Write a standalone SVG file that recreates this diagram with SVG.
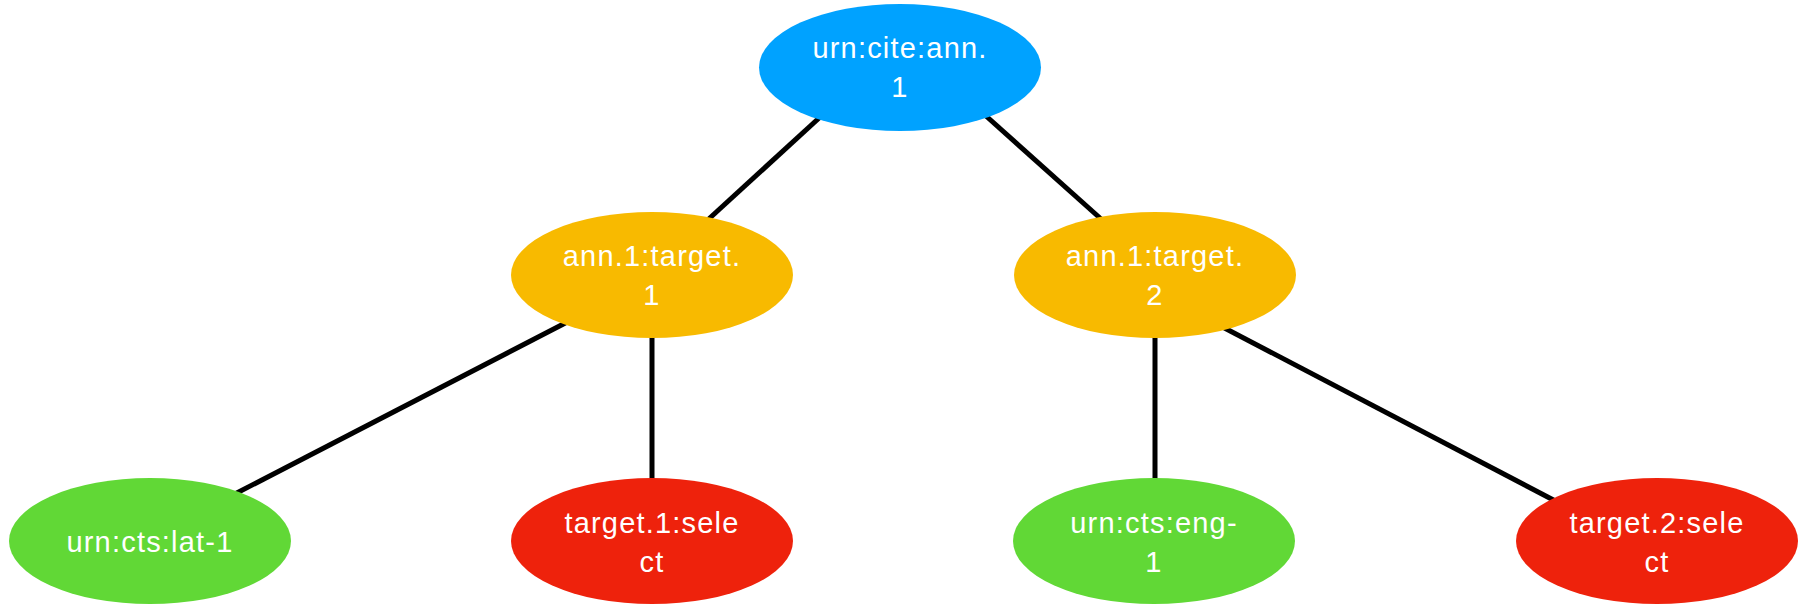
<svg xmlns="http://www.w3.org/2000/svg" width="1803" height="606" viewBox="0 0 1803 606">
<style>
.edge{stroke:#000;stroke-width:5;fill:none}
.lbl{font-family:"Liberation Sans",Arial,sans-serif;font-size:29px;fill:#fff;text-anchor:middle;letter-spacing:1.2px}
.blue{fill:#00A2FF}.yellow{fill:#F8BA00}.green{fill:#61D836}.red{fill:#EE220C}
</style>
<rect width="1803" height="606" fill="#fff"/>
<g id="connectors">
<line class="edge" x1="830" y1="108" x2="700" y2="227"/>
<line class="edge" x1="976" y1="107" x2="1110" y2="227"/>
<line class="edge" x1="575" y1="318" x2="229" y2="497"/>
<line class="edge" x1="652" y1="330" x2="652" y2="485"/>
<line class="edge" x1="1155" y1="330" x2="1155" y2="485"/>
<line class="edge" x1="1213" y1="322" x2="1563" y2="505"/>
</g>
<g id="root">
<ellipse class="blue" cx="900" cy="67.5" rx="141" ry="63.5"/>
<text class="lbl" x="900" y="58">urn:cite:ann.</text>
<text class="lbl" x="900" y="97">1</text>
</g>
<g id="target1">
<ellipse class="yellow" cx="652" cy="275" rx="141" ry="63"/>
<text class="lbl" x="652" y="266">ann.1:target.</text>
<text class="lbl" x="652" y="305">1</text>
</g>
<g id="target2">
<ellipse class="yellow" cx="1155" cy="275" rx="141" ry="63"/>
<text class="lbl" x="1155" y="266">ann.1:target.</text>
<text class="lbl" x="1155" y="305">2</text>
</g>
<g id="lat1">
<ellipse class="green" cx="150" cy="541" rx="141" ry="63"/>
<text class="lbl" x="150" y="552">urn:cts:lat-1</text>
</g>
<g id="select1">
<ellipse class="red" cx="652" cy="541" rx="141" ry="63"/>
<text class="lbl" x="652" y="533">target.1:sele</text>
<text class="lbl" x="652" y="572">ct</text>
</g>
<g id="eng1">
<ellipse class="green" cx="1154" cy="541" rx="141" ry="63"/>
<text class="lbl" x="1154" y="533">urn:cts:eng-</text>
<text class="lbl" x="1154" y="572">1</text>
</g>
<g id="select2">
<ellipse class="red" cx="1657" cy="541" rx="141" ry="63"/>
<text class="lbl" x="1657" y="533">target.2:sele</text>
<text class="lbl" x="1657" y="572">ct</text>
</g>
</svg>
